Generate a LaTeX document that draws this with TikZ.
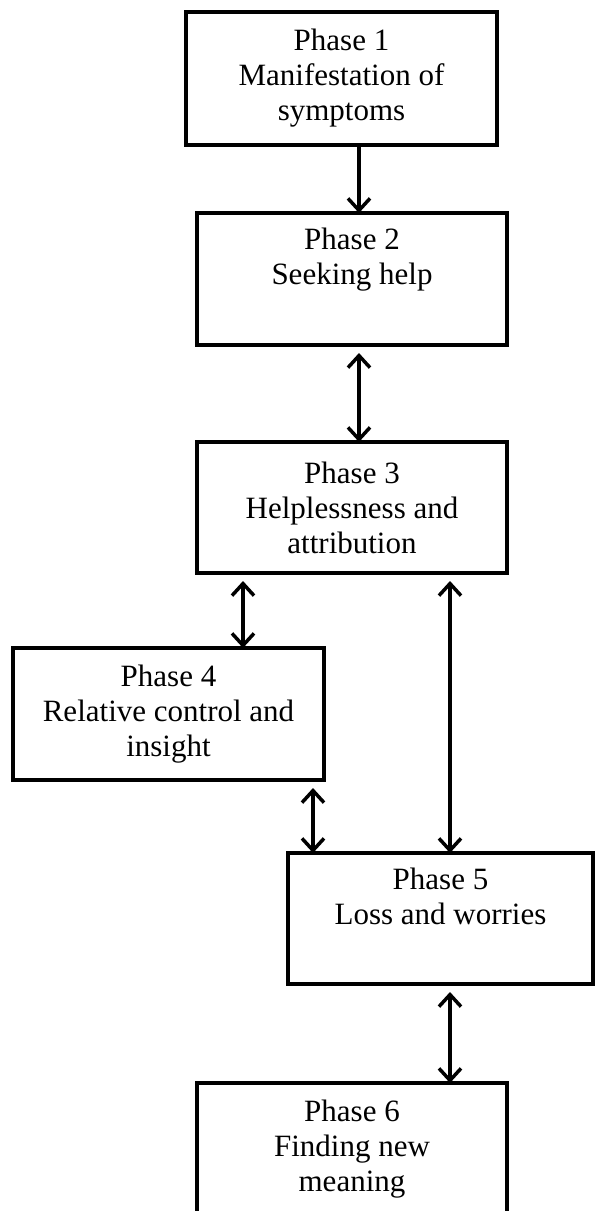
\documentclass[tikz,border=0pt]{standalone}
\usepackage{fontspec}
\setmainfont{Liberation Serif}
\usetikzlibrary{arrows.meta}

\begin{document}
\begin{tikzpicture}[x=1pt, y=-1pt,
    phase/.style={draw, line width=4pt, minimum width=310pt, minimum height=132pt,
      outer sep=0pt, inner sep=0pt, align=center,
      font=\fontsize{31}{35}\selectfont},
    link/.style={line width=3.5pt, -{Straight Barb[length=12pt, width=22pt]}},
    twoway/.style={line width=3.5pt, shorten <=8pt,
      {Straight Barb[length=12pt, width=22pt]}-{Straight Barb[length=12pt, width=22pt]}}]
    \useasboundingbox (0,0) rectangle (595,1211);
    \node[phase, minimum width=311pt, minimum height=133pt] (p1) at (341.5,78.5)
      {Phase 1\\Manifestation of\\symptoms};
    \node[phase] (p2) at (352,279) {Phase 2\\Seeking help\\\strut};
    \node[phase, minimum height=131pt] (p3) at (352,507.5)
      {Phase 3\\Helplessness and\\attribution};
    \node[phase, minimum width=311pt] (p4) at (168.5,714)
      {Phase 4\\Relative control and\\insight};
    \node[phase, minimum width=305pt, minimum height=131pt] (p5) at (440.5,918.5)
      {Phase 5\\Loss and worries\\\strut};
    \node[phase] (p6) at (352,1149) {Phase 6\\Finding new\\meaning};
    \coordinate (c12) at (359,0);
    \coordinate (c34) at (243,0);
    \coordinate (c35) at (450,0);
    \coordinate (c45) at (313,0);
    \draw[link] (p1.south -| c12) -- (p2.north -| c12);
    \draw[twoway] (p2.south -| c12) -- (p3.north -| c12);
    \draw[twoway] (p3.south -| c34) -- (p4.north -| c34);
    \draw[twoway] (p3.south -| c35) -- (p5.north -| c35);
    \draw[twoway] (p4.south -| c45) -- (p5.north -| c45);
    \draw[twoway] (p5.south -| c35) -- (p6.north -| c35);
  \end{tikzpicture}
\end{document}
